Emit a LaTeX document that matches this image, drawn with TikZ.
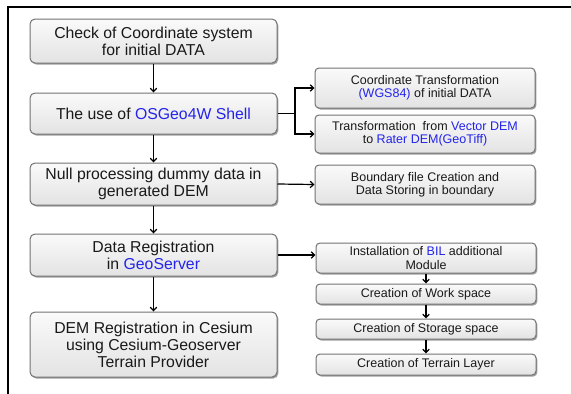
\documentclass[tikz,border=0pt]{standalone}
\usepackage{fontspec}
\setmainfont{Liberation Sans}
\usetikzlibrary{arrows.meta,shadows}
\definecolor{hl}{RGB}{35,35,235}
\definecolor{boxline}{RGB}{115,115,115}
\tikzset{
  box/.style={draw=boxline, line width=1pt, rounded corners=5pt, top color=gray!4, bottom color=gray!22,
    drop shadow={shadow xshift=1.3pt, shadow yshift=-1.5pt, fill=gray!75, opacity=1},
    align=center, inner sep=1pt, anchor=center, text=black!90},
  bigbox/.style={box, minimum width=247pt, font=\fontsize{15.8}{17}\selectfont},
  smallbox/.style={box, minimum width=220pt, rounded corners=4pt, font=\fontsize{12.5}{13.4}\selectfont},
  conn/.style={line width=1.2pt, -{Straight Barb[length=3.5pt,width=6.5pt]}},
  plain/.style={line width=1.2pt}
}
\newcommand{\hb}[1]{\textcolor{hl}{#1}}
\begin{document}
\begin{tikzpicture}[x=1pt,y=-1pt]
\useasboundingbox (0,0) rectangle (571,394);
\fill[white] (0,0) rectangle (571,394);
\draw[line width=2.4pt] (8,394) -- (8,7) -- (571,7);
% left column
\node[bigbox, minimum height=44pt] (b1) at (153.5,41) {Check of Coordinate system\\for initial DATA};
\node[bigbox, minimum height=41pt] (b2) at (153.5,113.5) {The use of \hb{OSGeo4W Shell}};
\node[bigbox, minimum height=42pt] (b3) at (153.5,184) {Null processing dummy data in\\generated DEM};
\node[bigbox, minimum height=42pt] (b4) at (153.5,255) {Data Registration\\in \hb{GeoServer}};
\node[bigbox, minimum height=65pt] (b5) at (153.5,344.5) {DEM Registration in Cesium\\using Cesium-Geoserver\\Terrain Provider};
% right column
\node[smallbox, minimum height=40pt] (ra) at (425,88) {Coordinate Transformation\\\hb{(WGS84)} of initial DATA};
\node[smallbox, minimum height=38pt] (rb) at (425,134) {Transformation\ \ from \hb{Vector DEM}\\to \hb{Rater DEM(GeoTiff)}};
\node[smallbox, minimum height=39pt] (rc) at (425,184.5) {Boundary file Creation and\\Data Storing in boundary};
\node[smallbox, minimum height=30pt] (rd) at (426,258) {Installation of \hb{BIL} additional\\Module};
\node[smallbox, minimum height=20pt] (re) at (426,294) {Creation of Work space};
\node[smallbox, minimum height=20pt] (rf) at (426,329) {Creation of Storage space};
\node[smallbox, minimum height=21pt] (rg) at (426,364.5) {Creation of Terrain Layer};
% connectors
\draw[conn] (b1) -- (b2);
\draw[conn] (b2) -- (b3);
\draw[conn] (b3) -- (b4);
\draw[conn] (b4) -- (b5);
\coordinate (j) at (295,113.5);
\draw[plain] (b2.east) -- (j);
\draw[conn] (j) |- (ra.west);
\draw[conn] (j) |- (rb.west);
\draw[conn] (b3.east) -- (rc.west);
\draw[conn] (b4.east) -- (rd.west |- b4.east);
\draw[conn] (rd) -- (re);
\draw[conn] (re) -- (rf);
\draw[conn] (rf) -- (rg);
\end{tikzpicture}
\end{document}
